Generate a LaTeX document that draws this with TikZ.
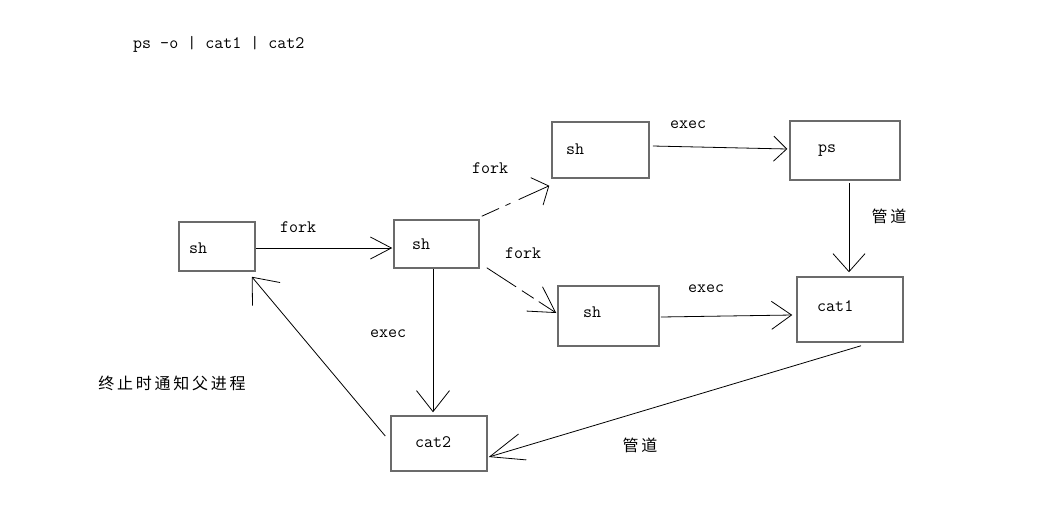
\documentclass[tikz,border=0pt]{standalone}
\usepackage{fontspec}
\newfontfamily\cjk{Noto Sans CJK SC}
\usetikzlibrary{arrows.meta,calc}
\newcommand\cg{\hspace{2.75pt}}
\begin{document}
\begin{tikzpicture}[x=1pt,y=-1pt,
  box/.style={draw=black!58, line width=1.5pt, inner sep=0pt},
  txt/.style={anchor=base west, inner sep=0pt, font=\fontsize{17.5}{20}\selectfont\ttfamily},
  ctxt/.style={anchor=center, inner sep=0pt, font=\fontsize{16}{19}\selectfont\cjk},
  arr/.style 2 args={-{Straight Barb[length=#1pt,width=#2pt]}, line width=0.8pt, black}]
\fill[white] (0,0) rectangle (1048,512);
\useasboundingbox (0,0) rectangle (1048,512);

% boxes
\node[box, minimum width=76pt, minimum height=49pt] (sh1) at (217,246.5) {};
\node[box, minimum width=85pt, minimum height=48pt] (sh2) at (436.5,244) {};
\node[box, minimum width=97pt, minimum height=56pt] (sh3) at (600.5,150) {};
\node[box, minimum width=110pt, minimum height=59pt] (ps) at (845,150.5) {};
\node[box, minimum width=101pt, minimum height=60pt] (sh4) at (608.5,316) {};
\node[box, minimum width=106pt, minimum height=65pt] (cat1) at (850,309.5) {};
\node[box, minimum width=96pt, minimum height=55pt] (cat2) at (439,443.5) {};

% box texts
\node[txt] (tsh1) at (189,253) {sh};
\node[txt] (tsh2) at (412,249) {sh};
\node[txt] (tsh3) at (566,154) {sh};
\node[txt] (tps) at (818,152) {ps};
\node[txt] (tsh4) at (583,317) {sh};
\node[txt] (tcat1) at (817,311) {cat1};
\node[txt] (tcat2) at (415,447) {cat2};

% title
\node[txt] (title) at (133,48) {ps -o | cat1 | cat2};

% connectors
\draw[arr={21}{22}] ($(sh1.east)+(0,1.5)$) -- ($(sh2.west)+(-1,4)$);
\draw[arr={13}{30}, dash pattern=on 19pt off 7pt on 5.5pt off 9pt on 60pt off 0pt]
  ($(sh2.north east)+(2,-3)$) -- ($(sh3.south west)+(-2,7)$);
\draw[arr={25}{29}, dash pattern=on 35pt off 7pt on 14pt off 6pt on 60pt off 0pt]
  ($(sh2.south east)+(7,-1)$) -- ($(sh4.west)+(-1,-3)$);
\draw[arr={21}{33}] ($(sh2.south)+(-3.5,0)$) -- ($(sh2.south |- cat2.north)+(-3.5,-3)$);
\draw[arr={22}{36}] ($(cat2.west)+(-5,-7.5)$) -- ($(sh1.south east)+(-4,5)$);
\draw[arr={13}{25}] ($(sh3.east)+(3,-4)$) -- ($(ps.west)+(-2,-1.5)$);
\draw[arr={18}{32}] ($(ps.south)+(4,2)$) -- ($(ps.south |- cat1.north)+(4,-4)$);
\draw[arr={20}{28}] ($(sh4.east)+(1,1)$) -- ($(cat1.west)+(-4,5.5)$);
\draw[arr={34}{27}] ($(cat1.south)+(11,3)$) -- ($(cat2.east)+(1,13.5)$);

% connector labels
\node[txt] (lfork1) at (280,232) {fork};
\node[txt] (lfork2) at (472,173) {fork};
\node[txt] (lfork3) at (505,258) {fork};
\node[txt] (lexec1) at (370,337) {exec};
\node[txt] (lexec2) at (670,128) {exec};
\node[txt] (lexec3) at (688,292) {exec};
\node[ctxt] (lpipe1) at (889,216) {管\cg 道};
\node[ctxt] (lpipe2) at (640,445) {管\cg 道};
\node[ctxt] (lnotify) at (172,383) {终\cg 止\cg 时\cg 通\cg 知\cg 父\cg 进\cg 程};
\end{tikzpicture}
\end{document}
